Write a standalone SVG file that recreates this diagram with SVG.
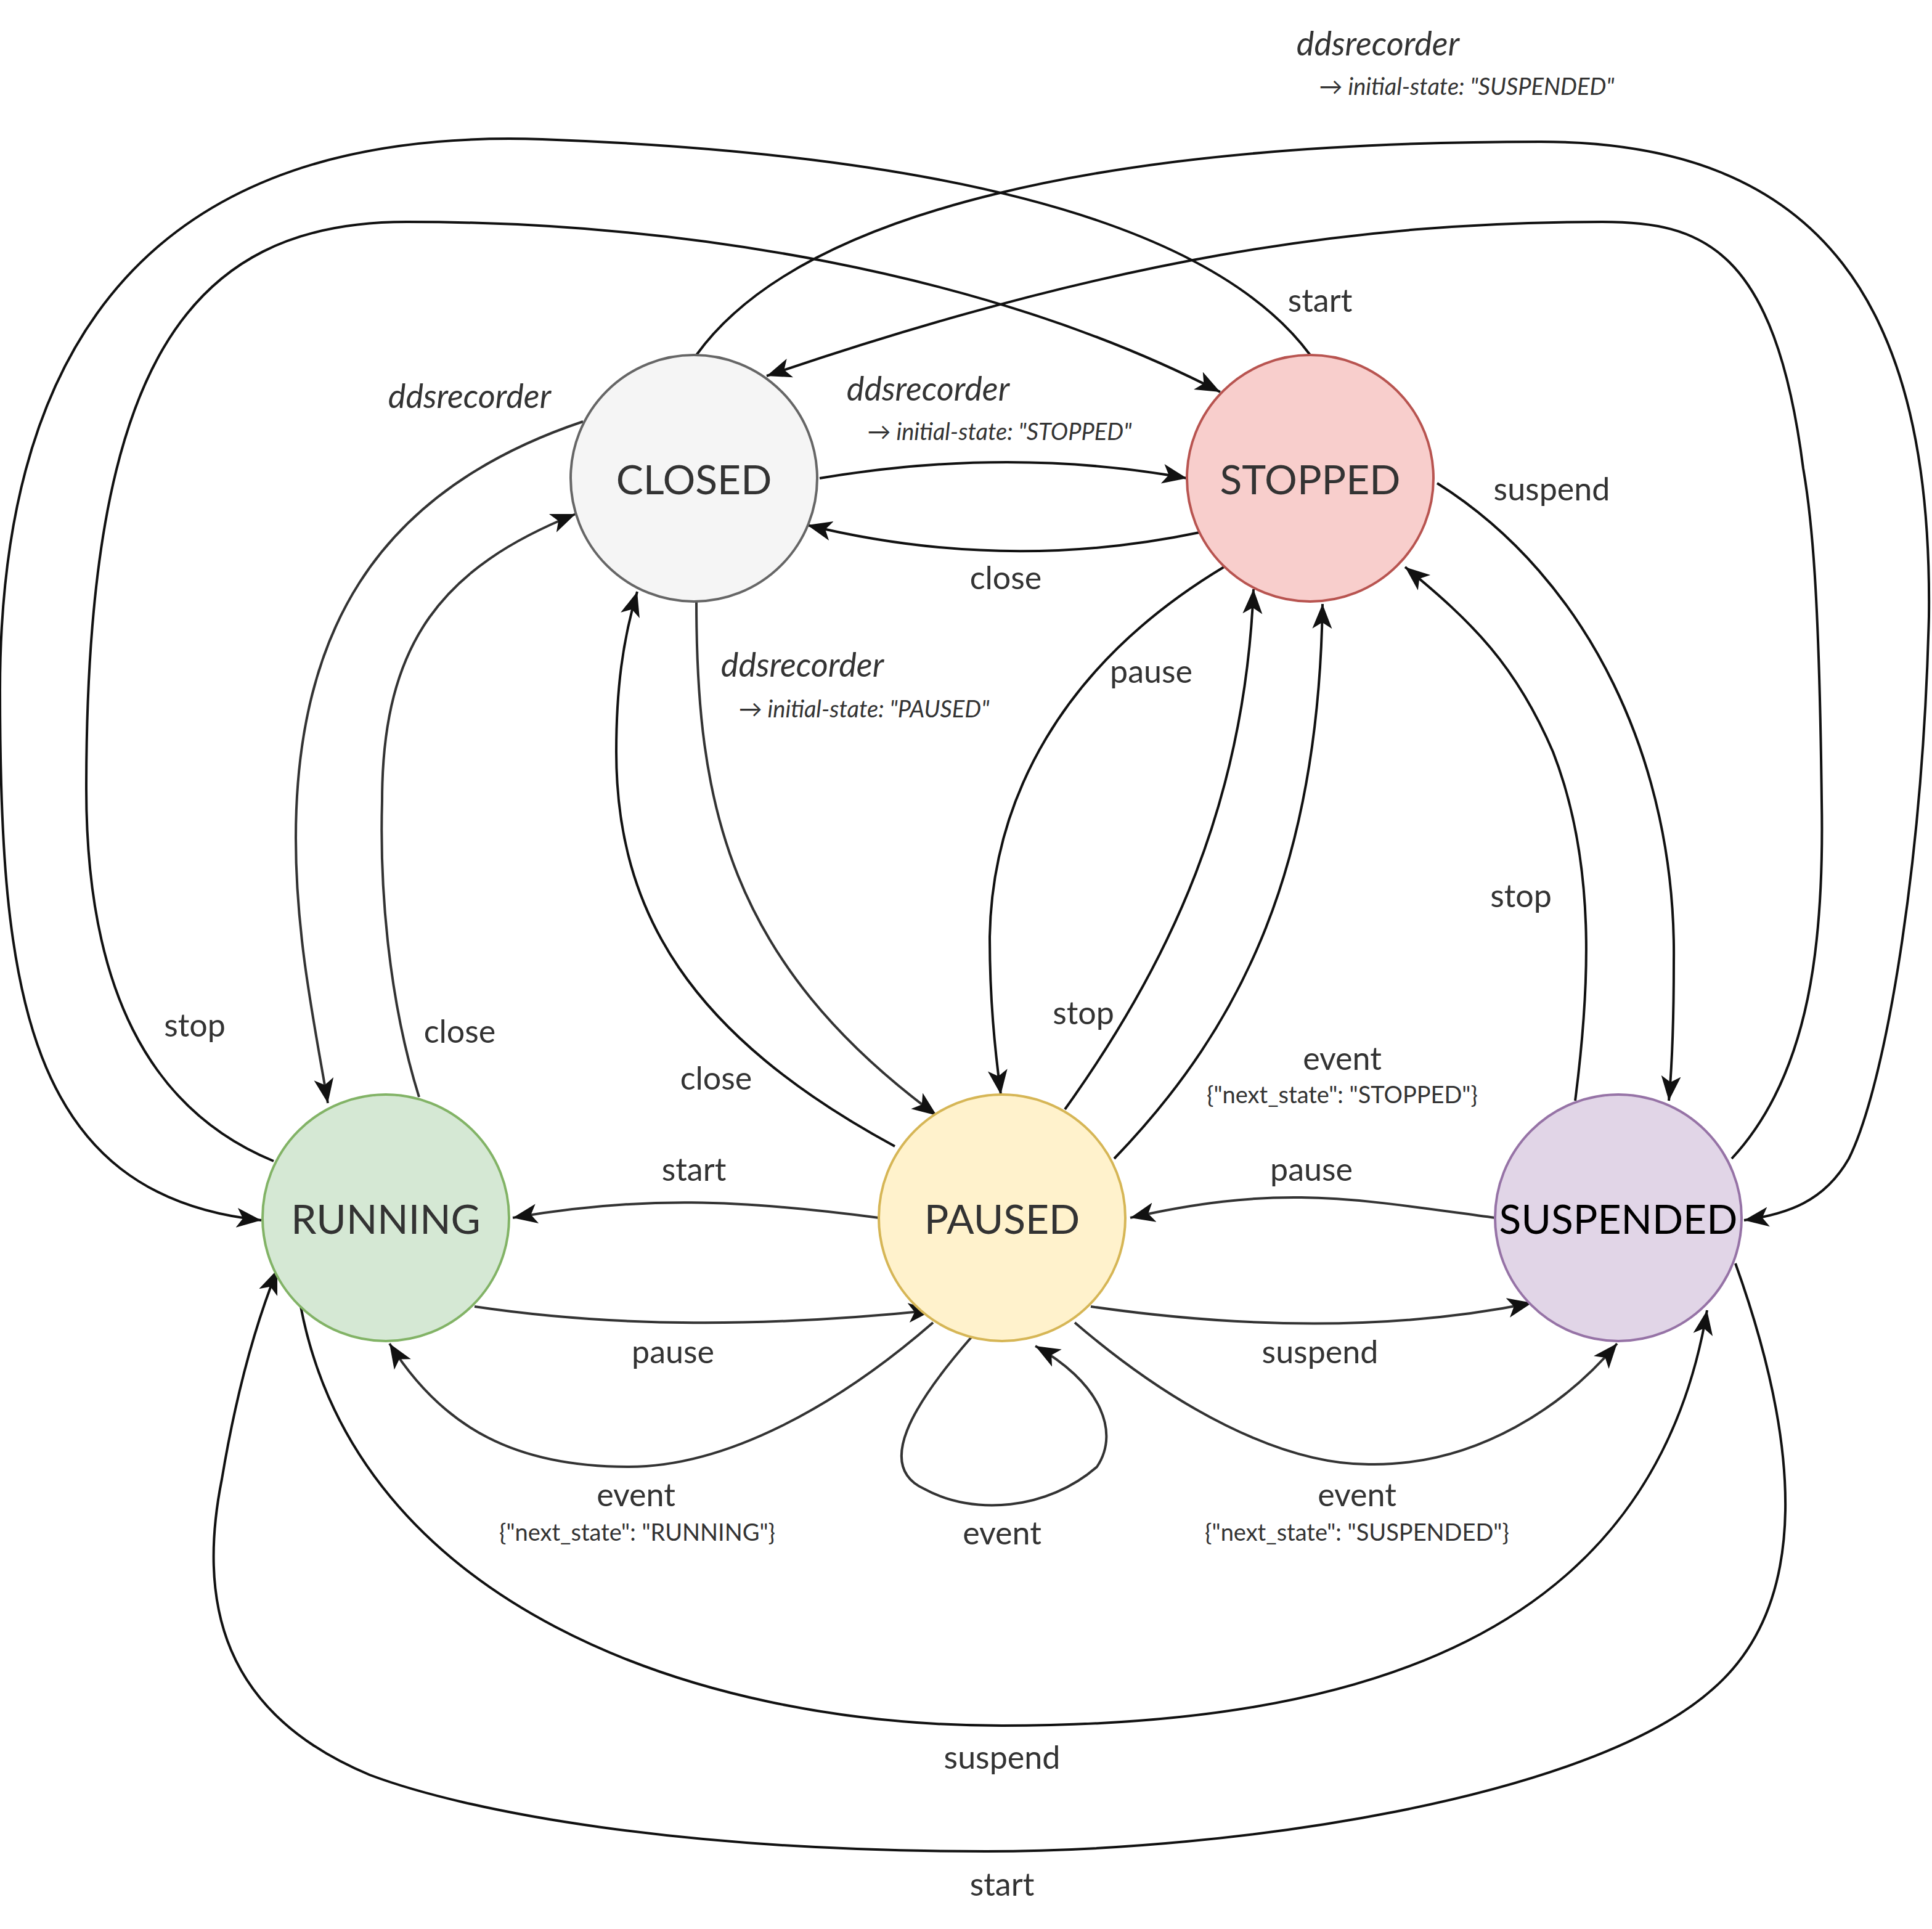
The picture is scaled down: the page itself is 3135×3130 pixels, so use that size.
<svg xmlns="http://www.w3.org/2000/svg" width="3135" height="3130" viewBox="0 0 3135 3130">
<style>
.e{fill:none;stroke:#111;stroke-width:2;marker-end:url(#a)}
.g{stroke:#333}
.n{font-family:Lato,"Liberation Sans",sans-serif;font-size:33px;text-anchor:middle;fill:#333}
.l{font-family:Lato,"Liberation Sans",sans-serif;font-size:26px;text-anchor:middle;fill:#333}
.i{font-family:Lato,"Liberation Sans",sans-serif;font-size:27px;font-style:italic;text-anchor:middle;fill:#333}
.s{font-family:Lato,"Liberation Sans",sans-serif;font-size:19px;text-anchor:middle;fill:#333}
.si{font-family:Lato,"Liberation Sans",sans-serif;font-size:19px;font-style:italic;text-anchor:middle;fill:#333}
</style>
<defs>
<marker id="a" markerUnits="userSpaceOnUse" markerWidth="24" markerHeight="24" viewBox="0 0 24 24" refX="20" refY="12" orient="auto">
<path d="M0,4 L20,12 L0,20 L5,12 Z" fill="#111"/>
</marker>
</defs>
<rect width="3135" height="3130" fill="#fff"/>
<g transform="scale(2)">
<g id="connectors">
<path class="e" d="M665,388 Q820,362 963,388"/>
<path class="e" d="M973,432 Q815,465 655,426"/>
<path class="e" d="M565,288 C650,170 900,115 1250,115 C1480,115 1568,250 1565,500 C1560,700 1530,880 1500,940 C1480,975 1450,985 1415,990"/>
<path class="e" d="M222,942 C120,900 70,800 70,640 C70,300 150,180 330,180 C550,180 800,220 990,318"/>
<path class="e" d="M1063,288 C1020,230 900,130 440,113 C200,105 0,200 0,560 C0,800 20,970 212,990"/>
<path class="e" d="M1405,940 C1470,870 1480,760 1478,650 C1476,480 1470,420 1463,380 C1440,200 1380,180 1300,180 C1100,180 900,210 622,305"/>
<path class="e g" d="M473,342 C300,400 240,520 240,680 C240,760 255,830 266,895"/>
<path class="e g" d="M340,890 C315,810 308,720 310,650 C310,520 360,460 467,417"/>
<path class="e g" d="M565,488 C565,650 590,780 760,905"/>
<path class="e" d="M726,930 C560,840 500,740 500,610 C500,560 505,520 517,480"/>
<path class="e" d="M993,460 C860,540 805,650 803,760 C803,810 807,850 812,888"/>
<path class="e" d="M864,900 C950,780 1010,650 1017,478"/>
<path class="e" d="M904,940 C1010,830 1070,700 1073,490"/>
<path class="e" d="M1166,392 C1290,470 1360,620 1358,780 C1358,820 1357,860 1354,893"/>
<path class="e" d="M1278,893 C1290,800 1295,700 1260,610 C1230,540 1195,505 1140,460"/>
<path class="e g" d="M713,988 C600,973 520,970 416,988"/>
<path class="e g" d="M385,1060 C500,1077 620,1077 757,1063"/>
<path class="e g" d="M757,1073 C680,1140 590,1190 510,1190 C420,1190 360,1160 316,1090"/>
<path class="e g" d="M1213,988 C1100,973 1040,960 917,988"/>
<path class="e g" d="M885,1060 C1010,1078 1130,1080 1243,1057"/>
<path class="e g" d="M872,1073 C950,1140 1040,1190 1115,1188 C1200,1188 1270,1140 1312,1090"/>
<path class="e g" d="M788,1085 C740,1140 710,1190 750,1208 C790,1230 850,1225 890,1190 C910,1160 890,1120 840,1092"/>
<path class="e" d="M244,1060 C290,1300 560,1400 813,1400 C1100,1400 1340,1330 1385,1063"/>
<path class="e" d="M1408,1025 C1460,1170 1470,1300 1390,1370 C1290,1460 1000,1502 800,1502 C550,1502 380,1470 300,1440 C180,1390 160,1300 180,1200 C190,1140 205,1080 225,1030"/>
</g>
<g id="labels">
<text class="i" x="753" y="325">ddsrecorder</text>
<text class="si" x="811" y="357">→ initial-state: "STOPPED"</text>
<text class="l" x="816" y="478">close</text>
<text class="i" x="1118" y="45">ddsrecorder</text>
<text class="si" x="1190" y="77">→ initial-state: "SUSPENDED"</text>
<text class="l" x="158" y="841">stop</text>
<text class="l" x="1071" y="253">start</text>
<text class="i" x="381" y="331">ddsrecorder</text>
<text class="l" x="373" y="846">close</text>
<text class="i" x="651" y="549">ddsrecorder</text>
<text class="si" x="701" y="582">→ initial-state: "PAUSED"</text>
<text class="l" x="581" y="884">close</text>
<text class="l" x="934" y="554">pause</text>
<text class="l" x="879" y="831">stop</text>
<text class="l" x="1089" y="868">event</text>
<text class="s" x="1089" y="895">{"next_state": "STOPPED"}</text>
<text class="l" x="1259" y="406">suspend</text>
<text class="l" x="1234" y="736">stop</text>
<text class="l" x="563" y="958">start</text>
<text class="l" x="546" y="1106">pause</text>
<text class="l" x="516" y="1222">event</text>
<text class="s" x="517" y="1250">{"next_state": "RUNNING"}</text>
<text class="l" x="1064" y="958">pause</text>
<text class="l" x="1071" y="1106">suspend</text>
<text class="l" x="1101" y="1222">event</text>
<text class="s" x="1101" y="1250">{"next_state": "SUSPENDED"}</text>
<text class="l" x="813" y="1253">event</text>
<text class="l" x="813" y="1435">suspend</text>
<text class="l" x="813" y="1538">start</text>
</g>
<g id="closed"><circle cx="563" cy="388" r="100" fill="#f5f5f5" stroke="#666" stroke-width="2"/><text class="n" x="563" y="401">CLOSED</text></g>
<g id="stopped"><circle cx="1063" cy="388" r="100" fill="#f8cecc" stroke="#b85450" stroke-width="2"/><text class="n" x="1063" y="401">STOPPED</text></g>
<g id="running"><circle cx="313" cy="988" r="100" fill="#d5e8d4" stroke="#82b366" stroke-width="2"/><text class="n" x="313" y="1001">RUNNING</text></g>
<g id="paused"><circle cx="813" cy="988" r="100" fill="#fff2cc" stroke="#d6b656" stroke-width="2"/><text class="n" x="813" y="1001">PAUSED</text></g>
<g id="suspended"><circle cx="1313" cy="988" r="100" fill="#e1d5e7" stroke="#9673a6" stroke-width="2"/><text class="n" x="1313" y="1001" style="fill:#000">SUSPENDED</text></g>
</g>
</svg>
